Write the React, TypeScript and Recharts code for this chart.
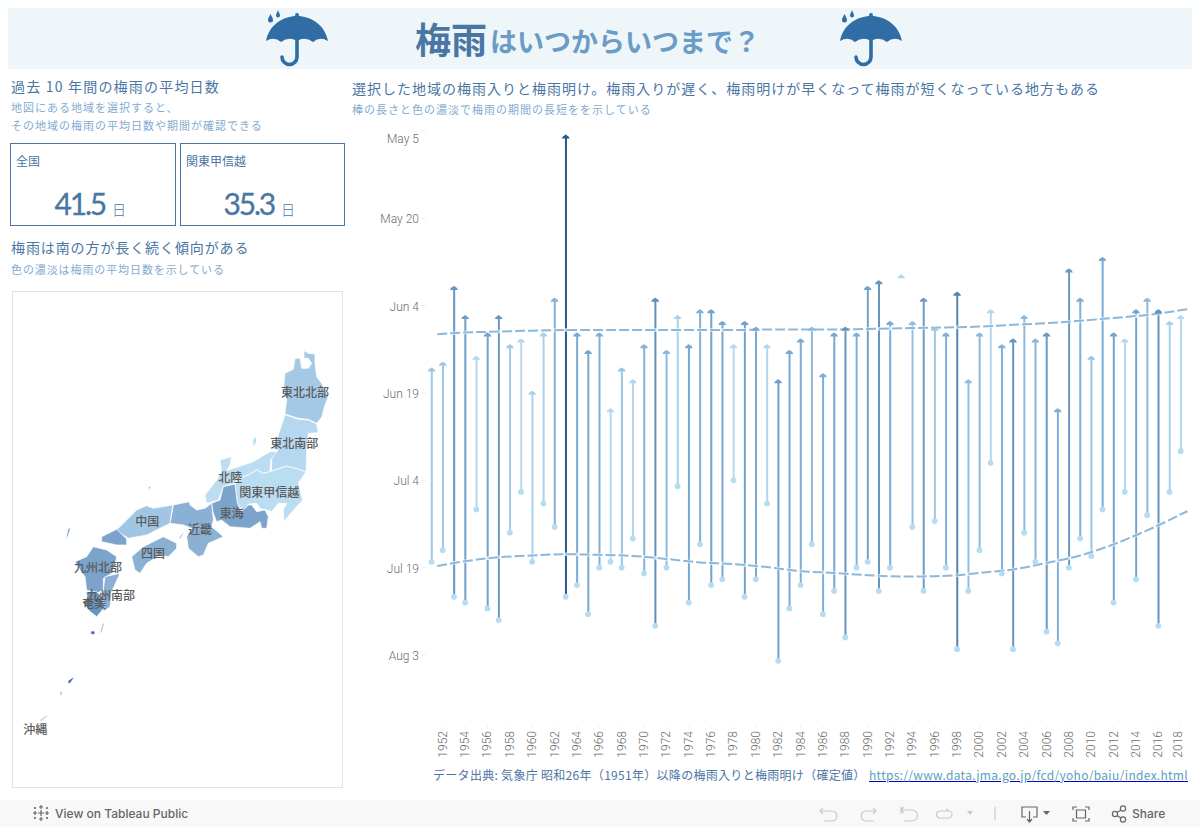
import React from "react"
import {
  Bar,
  Cell,
  ComposedChart,
  LabelList,
  Line,
  Scatter,
  ScatterChart,
  XAxis,
  YAxis,
} from "recharts"

const JP = '"Noto Sans CJK JP", "Noto Sans", sans-serif'
const BLUE = "#4a76a4"
const PALE = "#82abd0"

// days counted from May 5
const years = [
  1951, 1952, 1953, 1954, 1955, 1956, 1957, 1958, 1959, 1960, 1961, 1962, 1963, 1964, 1965, 1966, 1967,
  1968, 1969, 1970, 1971, 1972, 1973, 1974, 1975, 1976, 1977, 1978, 1979, 1980, 1981, 1982, 1983, 1984,
  1985, 1986, 1987, 1988, 1989, 1990, 1991, 1992, 1993, 1994, 1995, 1996, 1997, 1998, 1999, 2000, 2001,
  2002, 2003, 2004, 2005, 2006, 2007, 2008, 2009, 2010, 2011, 2012, 2013, 2014, 2015, 2016, 2017, 2018,
]
const rainStart = [
  41, 40, 27, 32, 39, 35, 32, 37, 36, 45, 35, 29, 1, 35, 38, 35, 48,
  41, 43, 37, 29, 38, 32, 37, 31, 31, 33, 37, 33, 34, 37, 43, 38, 36,
  34, 42, 35, 34, 35, 27, 26, 33, 25, 33, 29, 34, 35, 28, 43, 35, 31,
  37, 36, 32, 36, 35, 48, 24, 29, 39, 22, 35, 36, 31, 29, 31, 33, 32,
]
const rainEnd = [
  74, 72, 80, 81, 65, 82, 84, 69, 62, 74, 64, 68, 80, 78, 83, 75, 74,
  75, 70, 76, 85, 75, 61, 81, 71, 78, 77, 60, 80, 77, 64, 91, 82, 78,
  71, 83, 79, 87, 75, 74, 79, 75, null, 68, 79, 67, 75, 89, 79, 72, 57,
  76, 89, 69, 74, 86, 88, 75, 70, 73, 65, 81, 62, 77, 66, 85, 62, 55,
]

const trendYears = [
  1951.5, 1954, 1956, 1960, 1963, 1966, 1969, 1972, 1975, 1978, 1981, 1984,
  1987, 1990, 1993, 1995, 1998, 2000, 2003, 2006, 2009, 2012, 2015, 2018.6,
]
const trendStart = [
  34.9, 34.6, 34.5, 34.3, 34.2, 34.2, 34.2, 34.2, 34.2, 34.2, 34.1, 34.1,
  34.1, 34.0, 33.9, 33.8, 33.7, 33.6, 33.3, 33.0, 32.6, 32.1, 31.6, 30.6,
]
const trendEnd = [
  74.7, 73.9, 73.4, 72.9, 72.7, 72.8, 73.0, 73.5, 74.1, 74.4, 74.9, 75.6,
  75.9, 76.3, 76.5, 76.5, 76.3, 75.9, 75.3, 74.2, 72.9, 71.0, 68.6, 65.3,
]

const yTicks = [0, 15, 30, 45, 60, 75, 90]
const yTickLabels = ["May 5", "May 20", "Jun 4", "Jun 19", "Jul 4", "Jul 19", "Aug 3"]
const xTicks = years.filter((y) => y % 2 === 0)

const rows = years.map((year, i) => ({
  year,
  start: rainStart[i],
  end: rainEnd[i],
  span: [rainStart[i], rainEnd[i] ?? rainStart[i]],
  days: rainEnd[i] == null ? 26 : (rainEnd[i] as number) - rainStart[i],
}))
const trendRows = trendYears.map((year, i) => ({ year, top: trendStart[i], bottom: trendEnd[i] }))

const shadeStops: [number, number[]][] = [
  [26, [180, 216, 239]],
  [33, [156, 200, 230]],
  [40, [128, 176, 216]],
  [48, [112, 160, 202]],
  [61, [85, 133, 176]],
  [79, [42, 90, 138]],
]

function shade(days: number) {
  for (let i = 1; i < shadeStops.length; i++) {
    const [d0, c0] = shadeStops[i - 1]
    const [d1, c1] = shadeStops[i]
    if (days <= d1) {
      const t = Math.max(0, (days - d0) / (d1 - d0))
      return `rgb(${c0.map((c, k) => Math.round(c + (c1[k] - c) * t)).join(",")})`
    }
  }
  return "rgb(42,90,138)"
}

// map outlines, picture units
const tohokuNorth = [[912,32],[925,40],[945,42],[945,70],[950,110],[965,130],[975,150],[985,170],[975,195],[965,232],[950,250],[925,238],[895,235],[855,222],[860,180],[850,150],[855,100],[880,88],[885,55],[900,55],[905,85],[925,85],[935,70],[925,55],[912,55]]
const tohokuSouth = [[855,224],[895,238],[925,240],[950,252],[955,278],[925,280],[920,330],[918,395],[885,385],[860,378],[815,393],[815,350],[835,330],[815,325],[830,300],[840,270]]
const sado = [[758,300],[768,288],[770,305],[760,322]]
const hokuriku = [[810,335],[830,335],[812,360],[810,395],[790,400],[770,390],[745,405],[720,415],[700,430],[670,440],[655,480],[620,490],[615,465],[650,420],[665,395],[660,360],[695,350],[690,375],[680,392],[760,365]]
const kanto = [[815,393],[860,378],[885,385],[918,395],[895,430],[908,480],[890,500],[872,520],[852,545],[850,510],[860,490],[835,490],[815,515],[800,510],[780,505],[770,490],[745,492],[730,515],[712,490],[705,432],[720,415],[745,405],[770,390],[790,400],[810,395]]
const tokai = [[670,440],[705,432],[712,490],[725,515],[745,495],[755,495],[770,515],[795,510],[805,530],[800,565],[785,565],[780,545],[750,565],[690,560],[665,540],[650,545],[640,520],[635,490],[660,480]]
const kinki = [[520,495],[568,485],[570,495],[590,510],[615,505],[635,490],[640,540],[635,560],[670,590],[625,610],[610,645],[595,650],[565,625],[560,590],[575,565],[550,555],[510,550],[515,525]]
const chugoku = [[355,565],[410,510],[440,497],[460,505],[518,495],[510,550],[480,565],[440,585],[385,595],[345,570]]
const yamaguchi = [[305,590],[350,568],[380,597],[380,615],[350,615],[305,605]]
const shikoku = [[395,650],[430,620],[490,590],[530,610],[530,625],[505,650],[480,645],[440,670],[420,700],[405,690]]
const kyushuNorth = [[225,665],[260,650],[280,620],[320,630],[350,650],[345,675],[335,700],[310,715],[310,750],[290,760],[260,750],[255,710],[240,690]]
const kyushuSouth = [[315,710],[360,700],[335,755],[330,800],[310,815],[305,770],[310,750]]
const kagoshima = [[258,755],[290,755],[305,770],[315,800],[290,830],[265,810],[250,790],[262,775]]
const tsushima = [[205,565],[212,565],[205,585],[198,603],[200,585]]
const oki = [[444,441],[451,438],[453,445],[446,448]]
const awaji = [[548,578],[552,576],[542,596],[536,596]]
const tanegashima = [[310,848],[312,852],[304,878],[301,876]]
const yakushima = [[273,873],[284,873],[285,881],[278,884],[272,880]]
const amami = [[204,1022],[220,1012],[221,1015],[210,1030],[204,1030]]
const tokunoshima = [[181,1054],[184,1054],[186,1064],[181,1066]]
const okinawa = [[118,1140],[140,1125],[143,1128],[125,1145]]

const mapRegions: [number[][], string][] = [
  [tohokuNorth, "#a4c9e5"],
  [tohokuSouth, "#b5d7ef"],
  [sado, "#bbddf2"],
  [hokuriku, "#bbddf2"],
  [kanto, "#bbddf2"],
  [tokai, "#7ba3cb"],
  [kinki, "#8ab0d4"],
  [chugoku, "#a0c6e4"],
  [yamaguchi, "#7ba3cb"],
  [shikoku, "#8ab0d4"],
  [kyushuNorth, "#7ba3cb"],
  [kyushuSouth, "#8ab0d4"],
  [kagoshima, "#6a94bf"],
  [tsushima, "#7ba3cb"],
  [oki, "#a0c6e4"],
  [awaji, "#8ab0d4"],
  [tanegashima, "#4a76a4"],
  [yakushima, "#3f6c9c"],
  [amami, "#3f6c9c"],
  [tokunoshima, "#3f6c9c"],
  [okinawa, "#bbddf2"],
]

const mapLabels = [
  { x: 915, y: 157, name: "東北北部" },
  { x: 883, y: 312, name: "東北南部" },
  { x: 691, y: 413, name: "北陸" },
  { x: 808, y: 457, name: "関東甲信越" },
  { x: 695, y: 522, name: "東海" },
  { x: 442, y: 546, name: "中国" },
  { x: 600, y: 568, name: "近畿" },
  { x: 459, y: 640, name: "四国" },
  { x: 294, y: 682, name: "九州北部" },
  { x: 333, y: 766, name: "九州南部" },
  { x: 283, y: 792, name: "奄美" },
  { x: 106, y: 1168, name: "沖縄" },
]

function T({ x, y, size, color, spacing = 0, weight = 400, font = JP, children }: any) {
  return (
    <div
      style={{
        position: "absolute",
        left: x,
        top: y - 15,
        height: 30,
        lineHeight: "30px",
        fontSize: size,
        color,
        letterSpacing: spacing,
        fontWeight: weight,
        fontFamily: font,
        whiteSpace: "nowrap",
      }}
    >
      {children}
    </div>
  )
}

function Umbrella({ x }: { x: number }) {
  const c = "#2f6da4"
  return (
    <svg style={{ position: "absolute", left: x, top: 10 }} width={64} height={60}>
      <path d="M0 31C3 15 17 6 31 6C45 6 59 15 62 31Q54 26 47 32Q39 26 31 31Q23 26 15 32Q8 26 0 31Z" fill={c} />
      <circle cx={31} cy={5} r={2} fill={c} />
      <path d="M31 28V47A7.5 7.5 0 0 1 16 47" fill="none" stroke={c} strokeWidth={3.6} strokeLinecap="round" />
      <path d="M4.5 4C6 7 7 8 7 10A2.5 2.5 0 0 1 2 10C2 8 3 7 4.5 4Z" fill={c} />
      <path d="M12 0C13 3 14 4 14 5.5A2 2 0 0 1 10 5.5C10 4 11 3 12 0Z" fill={c} />
    </svg>
  )
}

function Box({ x, w, right, name, value }: { x: number; w: number; right: number; name: string; value: string }) {
  return (
    <div style={{ position: "absolute", left: x, top: 143, width: w, height: 81, border: `1px solid ${BLUE}` }}>
      <T x={5} y={17} size={12} color={BLUE}>{name}</T>
      <div
        style={{
          position: "absolute",
          left: 0,
          width: right,
          textAlign: "right",
          top: 39,
          lineHeight: "40px",
          fontSize: 30,
          color: BLUE,
          fontFamily: "Lato, sans-serif",
          letterSpacing: -2.2,
          WebkitTextStroke: `0.3px ${BLUE}`,
        }}
      >
        {value}
        <span style={{ fontSize: 14, fontFamily: JP, fontWeight: 300, marginLeft: 7, letterSpacing: 0, WebkitTextStroke: 0 }}>日</span>
      </div>
    </div>
  )
}

function YTick({ x, y, payload, index }: any) {
  return (
    <text
      x={x}
      y={y + (index === 0 ? 8 : 1)}
      textAnchor="end"
      dominantBaseline="central"
      fontSize={12}
      fill="#6c6c6c"
      fontFamily="Roboto, sans-serif"
      fontWeight={300}
    >
      {yTickLabels[yTicks.indexOf(payload.value)]}
    </text>
  )
}

function XTick({ x, y, payload }: any) {
  const px = payload.value === 2018 ? x - 3 : x
  return (
    <text
      transform={`rotate(-90 ${px} ${y})`}
      x={px}
      y={y}
      textAnchor="end"
      dominantBaseline="central"
      fontSize={12}
      fill="#6c6c6c"
      fontFamily="Roboto, sans-serif"
      fontWeight={300}
    >
      {payload.value}
    </text>
  )
}

function TopMark({ cx, cy, payload, index }: any) {
  if (cy == null) return <g key={index} />
  const d = `M ${cx - 4} ${cy + 1.8} Q ${cx - 3} ${cy - 0.8} ${cx - 1.2} ${cy - 1.4} Q ${cx} ${cy - 3} ${cx + 1.2} ${cy - 1.4} Q ${cx + 3} ${cy - 0.8} ${cx + 4} ${cy + 1.8} Z`
  return <path key={index} d={d} fill={shade(payload.days)} />
}

function EndMark({ cx, cy, index }: any) {
  if (cy == null) return <g key={index} />
  return <circle key={index} cx={cx} cy={cy} r={2.9} fill="#b5dcf2" />
}

function Toolbar() {
  const g = "#c9c9c9"
  const d = "#666"
  const ui = "Inter, Roboto, sans-serif"
  return (
    <div style={{ position: "absolute", left: 0, top: 800, width: 1200, height: 27, background: "#f8f8f8" }}>
      <svg style={{ position: "absolute", left: 0, top: 0 }} width={1200} height={27} fill="none" strokeWidth={1.2}>
        <g stroke={d}>
          <path d="M41 5V9M39 7H43M41 17V21M39 19H43M33 13H37M35 11V15M45 13H49M47 11V15M41 10V16M38 13H44M35 7V9M34 8H36M47 7V9M46 8H48M35 17V19M34 18H36M47 17V19M46 18H48" />
        </g>
        <g stroke={g}>
          <path d="M820 11H832A5 5 0 0 1 832 21H824M820 11L823 8M820 11L823 14" />
          <path d="M876 11H866A5 5 0 0 0 866 21H874M876 11L873 8M876 11L873 14" />
          <path d="M901 7V14M901 10H912A5 5 0 0 1 912 21H904M901 10L904 7M901 10L904 13" />
          <path d="M949 11H940A3.5 3.5 0 0 0 940 18H948A3.5 3.5 0 0 0 949 11M949 11L946 9" />
          <path d="M995 7V20" />
        </g>
        <path d="M967 11H973L970 15Z" fill={g} />
        <g stroke={d}>
          <path d="M1026 17H1022V7H1037V17H1033M1029.500 11V21M1027 19L1029.500 22L1032 19" />
          <path d="M1073 10V7H1077M1085 7H1089V10M1089 18V21H1085M1077 21H1073V18M1076.500 10H1085.500V18H1076.500Z" />
          <circle cx={1115} cy={14} r={2.6} />
          <circle cx={1123} cy={8.500} r={2.6} />
          <circle cx={1123} cy={19.500} r={2.6} />
          <path d="M1117 12.500L1121 10M1117 15.500L1121 18" />
        </g>
        <path d="M1043 11H1050L1046.500 15Z" fill={d} />
      </svg>
      <T x={55} y={14} size={12} color={d} weight={500} font={ui}>View on Tableau Public</T>
      <T x={1132} y={14} size={12} color={d} weight={500} font={ui}>Share</T>
    </div>
  )
}

function MapPanel() {
  return (
    <div style={{ position: "absolute", left: 12, top: 291, width: 329, height: 495, border: "1px solid #e3e3e3" }}>
      <ScatterChart width={329} height={495} margin={{ top: 0, right: 0, bottom: 0, left: 0 }}>
        <XAxis type="number" dataKey="x" domain={[39, 1026]} hide />
        <YAxis type="number" dataKey="y" domain={[-144, 1341]} reversed hide />
        {mapRegions.map(([outline, fill], i) => (
          <Scatter
            key={i}
            data={outline.map(([x, y]) => ({ x, y }))}
            isAnimationActive={false}
            shape={() => <g />}
            line={(p: any) => (
              <polygon
                key={i}
                points={p.points.map((q: any) => `${q.x},${q.y}`).join(" ")}
                fill={fill}
                stroke="#fff"
                strokeWidth={0.7}
              />
            )}
            lineType="joint"
          />
        ))}
        <Scatter data={mapLabels} isAnimationActive={false} shape={() => <g />}>
          <LabelList
            dataKey="name"
            position="center"
            fill="#5a5a5a"
            fontSize={12}
            fontFamily={JP}
            fontWeight={500}
          />
        </Scatter>
      </ScatterChart>
    </div>
  )
}

function RainChart() {
  return (
    <div style={{ position: "absolute", left: 352, top: 120 }}>
      <ComposedChart width={848} height={646} data={rows} margin={{ top: 11, right: 11.5, bottom: 0, left: 0 }}>
        <XAxis
          type="number"
          dataKey="year"
          domain={[1950.5, 2018.7]}
          ticks={xTicks}
          interval={0}
          axisLine={false}
          tickLine={{ stroke: "#f0f0f0" }}
          tickSize={3}
          height={40}
          tick={<XTick />}
        />
        <YAxis
          type="number"
          domain={[0, 102.2]}
          reversed
          ticks={yTicks}
          interval={0}
          axisLine={false}
          tickLine={{ stroke: "#eeeeee" }}
          tickSize={5}
          width={74}
          tick={<YTick />}
        />
        <Bar dataKey="span" barSize={2} isAnimationActive={false}>
          {rows.map((r) => (
            <Cell key={r.year} fill={shade(r.days)} />
          ))}
        </Bar>
        <Line dataKey="start" stroke="none" dot={TopMark} activeDot={false} isAnimationActive={false} />
        <Line dataKey="end" stroke="none" dot={EndMark} activeDot={false} isAnimationActive={false} />
        {["top", "bottom"].map((k) => (
          <Line
            key={k + "-halo"}
            data={trendRows}
            dataKey={k}
            type="monotone"
            stroke="#ffffff"
            strokeOpacity={0.7}
            strokeWidth={3.5}
            dot={false}
            activeDot={false}
            isAnimationActive={false}
          />
        ))}
        {["top", "bottom"].map((k) => (
          <Line
            key={k}
            data={trendRows}
            dataKey={k}
            type="monotone"
            stroke="#8ab9dd"
            strokeWidth={2}
            strokeDasharray="10 3"
            dot={false}
            activeDot={false}
            isAnimationActive={false}
          />
        ))}
      </ComposedChart>
    </div>
  )
}

export default function App() {
  return (
    <div style={{ position: "absolute", left: 0, top: 0, width: 1200, height: 827, background: "#fff", overflow: "hidden" }}>
      <div style={{ position: "absolute", left: 8, top: 8, width: 1184, height: 61, background: "#eef6fa" }} />
      <Umbrella x={266} />
      <Umbrella x={840} />
      <T x={415} y={38} size={36} color={BLUE} weight={700}>梅雨</T>
      <T x={490} y={41} size={27} color="#6b9cc6" weight={700}>はいつからいつまで？</T>

      <T x={11} y={86} size={14} color={BLUE} spacing={1.2}>過去 10 年間の梅雨の平均日数</T>
      <T x={11} y={107} size={11} color={PALE} spacing={1}>地図にある地域を選択すると、</T>
      <T x={11} y={125} size={11} color={PALE} spacing={1}>その地域の梅雨の平均日数や期間が確認できる</T>
      <Box x={10} w={164} right={115} name="全国" value="41.5" />
      <Box x={180} w={163} right={114} name="関東甲信越" value="35.3" />
      <T x={11} y={247} size={14} color={BLUE} spacing={0.9}>梅雨は南の方が長く続く傾向がある</T>
      <T x={11} y={269} size={11} color={PALE} spacing={0.9}>色の濃淡は梅雨の平均日数を示している</T>
      <MapPanel />

      <T x={352} y={88} size={14} color={BLUE} spacing={1}>
        選択した地域の梅雨入りと梅雨明け。梅雨入りが遅く、梅雨明けが早くなって梅雨が短くなっている地方もある
      </T>
      <T x={352} y={109} size={11} color={PALE} spacing={1}>棒の長さと色の濃淡で梅雨の期間の長短をを示している</T>
      <RainChart />
      <T x={433} y={775} size={12} color={BLUE} spacing={0.3}>
        データ出典: 気象庁 昭和26年（1951年）以降の梅雨入りと梅雨明け（確定値）
      </T>
      <T x={869} y={775} size={12} color="#5a9fc0" spacing={0.3}>
        <span style={{ textDecoration: "underline", textDecorationColor: "#0000c8" }}>
          https://www.data.jma.go.jp/fcd/yoho/baiu/index.html
        </span>
      </T>
      <Toolbar />
    </div>
  )
}
